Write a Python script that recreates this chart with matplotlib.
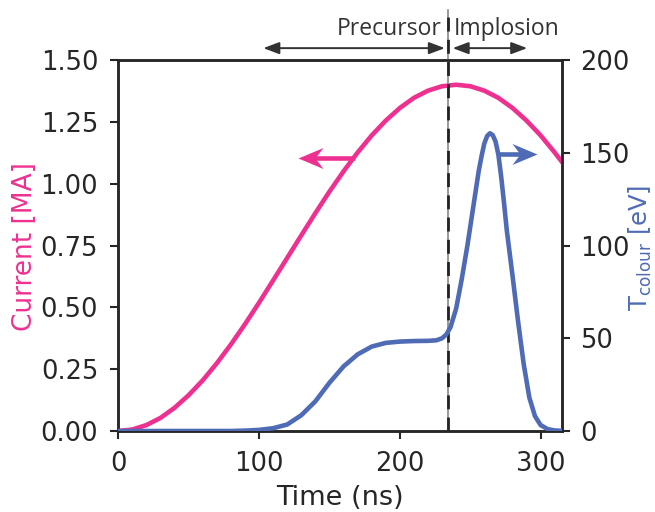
import matplotlib
matplotlib.use("Agg")
import matplotlib.pyplot as plt
from matplotlib.path import Path

# current trace (MA)
t_current = [0, 10, 20, 30, 40, 50, 60, 70, 80, 90, 100, 110, 120, 130, 140, 150, 160,
             170, 180, 190, 200, 210, 220, 230, 240, 250, 260, 270, 280, 290, 300, 310, 315]
current = [0.0, 0.006, 0.024, 0.053, 0.094, 0.145, 0.205, 0.274, 0.35, 0.432, 0.519, 0.609,
           0.70, 0.791, 0.881, 0.968, 1.05, 1.126, 1.195, 1.255, 1.306, 1.347, 1.376, 1.394,
           1.40, 1.394, 1.376, 1.347, 1.306, 1.255, 1.195, 1.126, 1.089]

# colour temperature (eV)
t_temp = [0, 80, 90, 100, 110, 120, 130, 140, 150, 160, 170, 180, 190, 200, 210, 220, 226,
          230, 233, 236, 240, 244, 248, 252, 256, 258, 260, 262, 264, 266, 268, 270, 272, 274,
          276, 280, 284, 288, 292, 296, 300, 305, 310, 315]
temp = [0, 0, 0.2, 0.6, 1.5, 3.5, 8.5, 16, 26, 34.8, 41.3, 45.5, 47.5, 48.2, 48.5, 48.6, 48.9,
        50, 52, 56, 66, 82, 100, 120, 140, 148, 155, 159, 160.5, 159.5, 156, 149, 137, 123,
        108, 84, 59, 36, 18, 8, 3.2, 1.0, 0.3, 0.1]

t_split = 234.4
pink = "#ee3191"
blue = "#4f6bb5"
dark = "#262626"

plt.rcParams["font.family"] = "DejaVu Sans"

fig = plt.figure(figsize=(6.55, 5.12), dpi=100)
ax = fig.add_axes([0.1806, 0.1582, 0.677, 0.7246])
ax2 = ax.twinx()

ax.plot(t_current, current, color=pink, lw=3.3, zorder=3)
ax2.plot(t_temp, temp, color=blue, lw=3.3, zorder=3)

ax.set_xlim(0, 315)
ax.set_ylim(0, 1.5)
ax2.set_ylim(0, 200)
ax.set_xticks([0, 100, 200, 300])
ax.set_yticks([0, 0.25, 0.5, 0.75, 1.0, 1.25, 1.5])
ax.set_yticklabels(["0.00", "0.25", "0.50", "0.75", "1.00", "1.25", "1.50"])
ax2.set_yticks([0, 50, 100, 150, 200])

ax.set_xlabel("Time (ns)", color=dark, fontsize=19.5)
ax.set_ylabel("Current [MA]", color=pink, fontsize=19)
ax2.set_ylabel(r"T$_{\mathrm{colour}}$ [eV]", color=blue, fontsize=17.5)
ax.xaxis.set_label_coords(0.5, -0.145)
ax.yaxis.set_label_coords(-0.181, 0.497)
ax2.yaxis.set_label_coords(1.146, 0.495)

for a in (ax, ax2):
    for s in a.spines.values():
        s.set_linewidth(1.8)
        s.set_color(dark)
    a.tick_params(direction="out", length=6, width=1.5, colors=dark, labelsize=18.5, pad=8.5)
ax2.tick_params(pad=7)

# phase divider
trans = ax.get_xaxis_transform()
ax.plot([t_split, t_split], [0, 1.135], transform=trans, color="#888888", lw=1.2,
        clip_on=False, zorder=4)
ax.plot([t_split, t_split], [0, 1.135], transform=trans, color="#222222", lw=2,
        ls=(0, (5, 3)), clip_on=False, zorder=5)

# phase arrows above the plot
for x0, x1 in [(103, 232), (237.5, 290.5)]:
    ax.annotate("", xy=(x0, 1.032), xytext=(x1, 1.032), xycoords=trans, textcoords=trans,
                arrowprops=dict(arrowstyle="<|-|>,head_length=0.8,head_width=0.3",
                                color="#333333", lw=1.4, mutation_scale=12,
                                shrinkA=0, shrinkB=0), annotation_clip=False)
ax.text(229.5, 1.083, "Precursor", transform=trans, ha="right", va="center",
        fontsize=16.5, family="Open Sans", color="#333333")
ax.text(238, 1.083, "Implosion", transform=trans, ha="left", va="center",
        fontsize=16.5, family="Open Sans", color="#333333")

# axis indicator arrows with notched heads
head_r = Path([(0, 0), (-25, 10.5), (-17, 0), (-25, -10.5), (0, 0)],
              [Path.MOVETO, Path.LINETO, Path.LINETO, Path.LINETO, Path.CLOSEPOLY])
head_l = Path([(0, 0), (25, 10.5), (17, 0), (25, -10.5), (0, 0)],
              [Path.MOVETO, Path.LINETO, Path.LINETO, Path.LINETO, Path.CLOSEPOLY])
ax.plot([168, 136], [1.105, 1.105], color=pink, lw=3.3, solid_capstyle="butt", zorder=4)
ax.plot([127.8], [1.105], marker=head_l, markersize=36, color=pink, mec="none", zorder=4)
ax2.plot([270, 288], [149.5, 149.5], color=blue, lw=3.3, solid_capstyle="butt", zorder=4)
ax2.plot([297.7], [149.5], marker=head_r, markersize=36, color=blue, mec="none", zorder=4)

fig.savefig("out.png", dpi=100)
